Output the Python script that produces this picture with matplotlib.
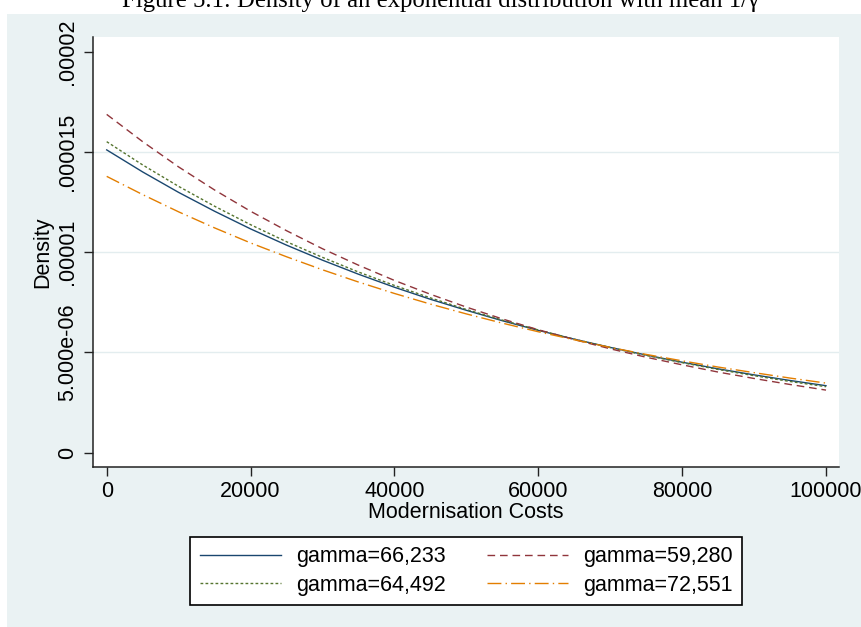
import matplotlib.pyplot as plt
from matplotlib.patches import Rectangle

# values, density in units of 1e-6, every 5000 of cost
costs = [0, 5000, 10000, 15000, 20000, 25000, 30000, 35000, 40000, 45000, 50000,
         55000, 60000, 65000, 70000, 75000, 80000, 85000, 90000, 95000, 100000]
dens_66233 = [15.10, 14.00, 12.98, 12.04, 11.16, 10.35, 9.60, 8.90, 8.25, 7.65, 7.10,
              6.58, 6.10, 5.66, 5.25, 4.87, 4.51, 4.18, 3.88, 3.60, 3.34]
dens_59280 = [16.87, 15.51, 14.25, 13.10, 12.04, 11.07, 10.17, 9.35, 8.59, 7.90, 7.26,
              6.67, 6.13, 5.64, 5.18, 4.76, 4.38, 4.02, 3.70, 3.40, 3.12]
dens_64492 = [15.51, 14.35, 13.28, 12.29, 11.37, 10.52, 9.74, 9.01, 8.34, 7.72, 7.14,
              6.61, 6.12, 5.66, 5.24, 4.85, 4.49, 4.15, 3.84, 3.55, 3.29]
dens_72551 = [13.78, 12.87, 12.01, 11.21, 10.46, 9.77, 9.12, 8.51, 7.94, 7.41, 6.92,
              6.46, 6.03, 5.63, 5.25, 4.90, 4.58, 4.27, 3.99, 3.72, 3.47]
labels = ["gamma=66,233", "gamma=64,492", "gamma=59,280", "gamma=72,551"]

x_ticks = [0, 20000, 40000, 60000, 80000, 100000]
y_ticks = [0, 0.000005, 0.00001, 0.000015, 0.00002]
y_ticklabels = ["0", "5.000e-06", ".00001", ".000015", ".00002"]

W, H = 862, 627
plt.rcParams['font.family'] = ['Liberation Sans', 'DejaVu Sans']

fig = plt.figure(figsize=(W / 100, H / 100), dpi=100, facecolor='white')

# light stata-like graph region, offset from the top/left edge
bg = '#EAF2F3'
fig.patches.append(Rectangle((7 / W, 0), 1 - 7 / W, 1 - 14 / H, transform=fig.transFigure,
                             facecolor=bg, edgecolor='none', zorder=-5))

# title of the page, mostly cut off at the top
fig.text(122 / W, 1 - 7 / H, "Figure 5.1: Density of an exponential distribution with mean 1/\u03b3",
         family=['Liberation Serif', 'DejaVu Serif'], fontsize=17.8, ha='left', va='baseline')

ax = fig.add_axes([92.7 / W, 1 - 466.7 / H, (839 - 92.7) / W, (466.7 - 37) / H])
ax.set_facecolor('white')
ax.set_zorder(2)

scale = 1e-6
ax.plot(costs, [v * scale for v in dens_66233], color='#1A476F', lw=1.0, label=labels[0])
ax.plot(costs, [v * scale for v in dens_64492], color='#55752F', lw=1.0,
        dashes=(2, 1.6), label=labels[1])
ax.plot(costs, [v * scale for v in dens_59280], color='#90353B', lw=1.0,
        dashes=(5.5, 3.5), label=labels[2])
ax.plot(costs, [v * scale for v in dens_72551], color='#E37E00', lw=1.0,
        dashes=(10, 3, 1, 3), label=labels[3])

ax.set_xlim(-1946, 101807)
ax.set_ylim(-7.0e-7, 2.073e-5)

ax.set_xticks(x_ticks)
ax.set_xticklabels([str(t) for t in x_ticks])
ax.set_yticks(y_ticks)
ax.set_yticklabels(y_ticklabels)

for y in y_ticks[1:-1]:
    ax.axhline(y, color='#E3EDEF', lw=1.0, zorder=0)

for s in ['top', 'right']:
    ax.spines[s].set_visible(False)
for s in ['left', 'bottom']:
    ax.spines[s].set_color('#222222')
    ax.spines[s].set_linewidth(1.1)

ax.tick_params(axis='both', length=6.3, width=1.0, color='#222222', labelsize=15.5)
ax.tick_params(axis='x', pad=4)
ax.tick_params(axis='y', pad=4, labelrotation=90)
for t in ax.get_yticklabels():
    t.set_va('center')

ax.set_xlabel("Modernisation Costs", fontsize=15.5, labelpad=0)
ax.set_ylabel("Density", fontsize=15.5, labelpad=3)

fig.legend(loc='center', bbox_to_anchor=(466 / W, 1 - 571 / H), ncol=2, fontsize=15.5,
           handlelength=3.77, handletextpad=0.7, columnspacing=1.9, borderpad=0.45,
           labelspacing=0.35, fancybox=False, framealpha=1,
           edgecolor='black').get_frame().set_linewidth(1.2)

fig.savefig('out.png', dpi=100, facecolor=fig.get_facecolor())
